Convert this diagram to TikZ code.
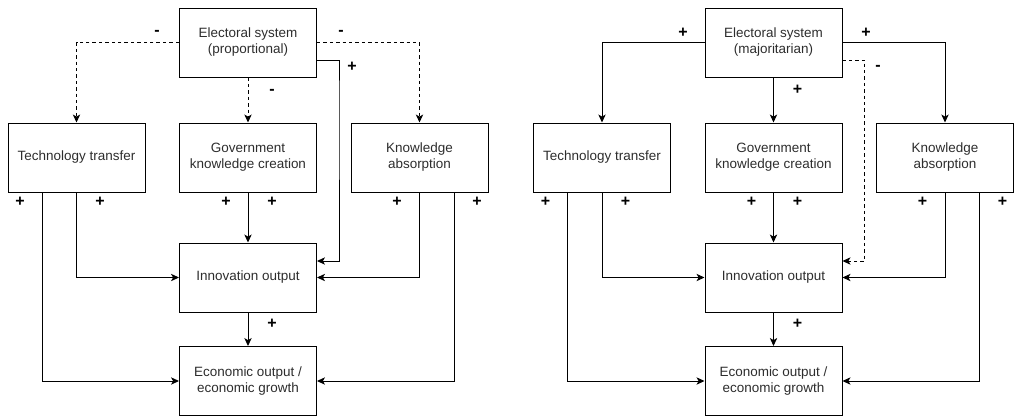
\documentclass[tikz,border=0pt]{standalone}
\usepackage{fontspec}
\setmainfont{Liberation Sans}
\usetikzlibrary{arrows.meta,calc}
\definecolor{txt}{RGB}{45,45,45}
\tikzset{
  box/.style={draw, line width=0.75pt, minimum width=102.75pt, minimum height=51.75pt,
    inner sep=0pt, align=center, text=txt, font=\fontsize{10.1}{12}\selectfont},
  link/.style={line width=0.75pt, -{Stealth[length=6pt,width=5.5pt,inset=1.6pt]}},
  neg/.style={link, dash pattern=on 2.6pt off 2.2pt},
  sign/.style={inner sep=0pt, font=\fontsize{12}{12}\selectfont\bfseries}
}
\begin{document}
\begin{tikzpicture}[x=0.75pt,y=-0.75pt]
\useasboundingbox (0,0) rectangle (1017,419);

% ---------- proportional system ----------
\node[box] (LE) at (248,42.5)  {Electoral system\\(proportional)};
\node[box] (LT) at (76.5,157.5) {Technology transfer};
\node[box] (LG) at (248,157.5) {Government\\knowledge creation};
\node[box] (LK) at (419.5,157.5) {Knowledge\\absorption};
\node[box] (LI) at (248,277.5) {Innovation output};
\node[box] (LO) at (248,381)   {Economic output /\\economic growth};

\draw[neg] (LE.west) -| (LT.north);
\draw[neg] (LE.east) -| (LK.north);
\draw[neg] (LE.south) -- (LG.north);
\draw[link] ($(LE.east)+(0,17.5)$) -| (339,100) |- ($(LI.east)+(0,-16.5)$);
\draw[link] (LT.south) |- (LI.west);
\draw[link] ($(LT.south)+(-34.5,0)$) |- (LO.west);
\draw[link] (LG.south) -- (LI.north);
\draw[link] (LK.south) |- (LI.east);
\draw[link] ($(LK.south)+(34.5,0)$) |- (LO.east);
\draw[link] (LI.south) -- (LO.north);

\node[sign] (ls1) at (157,33) {-};
\node[sign] (ls2) at (341,33) {-};
\node[sign] (ls3) at (352,67) {+};
\node[sign] (ls4) at (272,92) {-};
\node[sign] (ls5) at (20,202) {+};
\node[sign] (ls6) at (100,202) {+};
\node[sign] (ls7) at (226,202) {+};
\node[sign] (ls8) at (272,202) {+};
\node[sign] (ls9) at (397,202) {+};
\node[sign] (ls10) at (477,202) {+};
\node[sign] (ls11) at (272,324) {+};

% ---------- majoritarian system ----------
\node[box] (RE) at (773.5,42.5)  {Electoral system\\(majoritarian)};
\node[box] (RT) at (602,157.5) {Technology transfer};
\node[box] (RG) at (773.5,157.5) {Government\\knowledge creation};
\node[box] (RK) at (945,157.5) {Knowledge\\absorption};
\node[box] (RI) at (773.5,277.5) {Innovation output};
\node[box] (RO) at (773.5,381)   {Economic output /\\economic growth};

\draw[link] (RE.west) -| (RT.north);
\draw[link] (RE.east) -| (RK.north);
\draw[link] (RE.south) -- (RG.north);
\draw[neg] ($(RE.east)+(0,17.5)$) -| (864.5,100) |- ($(RI.east)+(0,-16.5)$);
\draw[link] (RT.south) |- (RI.west);
\draw[link] ($(RT.south)+(-34.5,0)$) |- (RO.west);
\draw[link] (RG.south) -- (RI.north);
\draw[link] (RK.south) |- (RI.east);
\draw[link] ($(RK.south)+(34.5,0)$) |- (RO.east);
\draw[link] (RI.south) -- (RO.north);

\node[sign] (rs1) at (683,33) {+};
\node[sign] (rs2) at (866,33) {+};
\node[sign] (rs3) at (878,68) {-};
\node[sign] (rs4) at (797.5,90) {+};
\node[sign] (rs5) at (545.5,202) {+};
\node[sign] (rs6) at (625.5,202) {+};
\node[sign] (rs7) at (751.5,202) {+};
\node[sign] (rs8) at (797.5,202) {+};
\node[sign] (rs9) at (922.5,202) {+};
\node[sign] (rs10) at (1002.5,202) {+};
\node[sign] (rs11) at (797.5,324) {+};
\end{tikzpicture}
\end{document}
